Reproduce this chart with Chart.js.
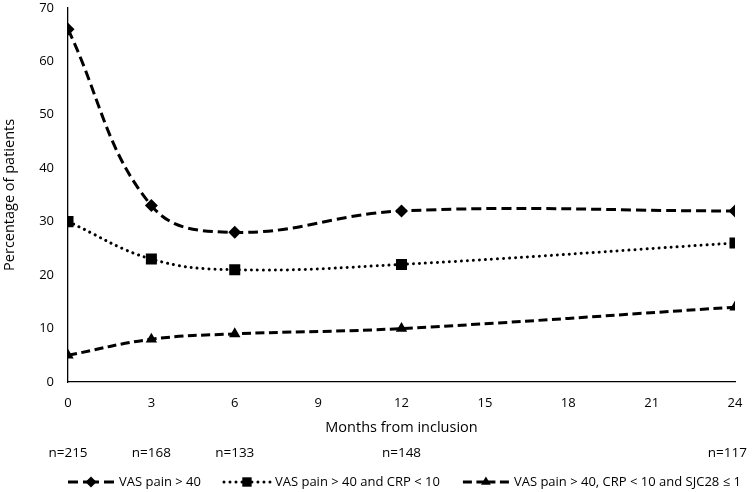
<!DOCTYPE html>
<html><head><meta charset="utf-8">
<script src="https://cdn.jsdelivr.net/npm/chart.js@4/dist/chart.umd.min.js"></script>
<style>html,body{margin:0;padding:0;background:#fff;}#wrap{width:755px;height:492px;}</style>
</head><body><div id="wrap"><canvas id="c" width="755" height="492"></canvas></div>
<script>
const months = [0, 3, 6, 12, 24];
const seriesLabels = ['VAS pain > 40', 'VAS pain > 40 and CRP < 10', 'VAS pain > 40, CRP < 10 and SJC28 \u2264 1'];
const vasPain = [66, 33, 28, 32, 32];
const vasPainCrp = [30, 23, 21, 22, 26];
const vasPainCrpSjc = [5, 8, 9, 10, 14];
const nLabels = ['n=215', 'n=168', 'n=133', 'n=148', 'n=117'];
const xTickStep = 3;
const yTickStep = 10;

const FONT = "'Open Sans', 'DejaVu Sans', sans-serif";
const toPts = arr => arr.map((v, i) => ({x: months[i], y: v}));

const styles = [
  {dash: [10, 5], cap: 'butt', width: 3, point: 'rectRot', r: 6.5},
  {dash: [0.01, 6], cap: 'round', width: 3, point: 'rect', r: 7.8},
  {dash: [9, 4.5], cap: 'butt', width: 3, point: 'triangle', r: 6.6}
];
const values = [vasPain, vasPainCrp, vasPainCrpSjc];

const datasets = values.map((v, i) => ({
  label: seriesLabels[i],
  data: toPts(v),
  borderColor: '#000',
  backgroundColor: '#000',
  borderWidth: styles[i].width,
  borderDash: styles[i].dash,
  borderCapStyle: styles[i].cap,
  tension: 0.4,
  pointStyle: styles[i].point,
  pointRadius: styles[i].r,
  pointBorderWidth: 0,
  pointBackgroundColor: '#000',
  fill: false
}));

function drawMarker(ctx, style, r, x, y) {
  ctx.beginPath();
  if (style === 'rectRot') {
    ctx.moveTo(x - r, y); ctx.lineTo(x, y - r); ctx.lineTo(x + r, y); ctx.lineTo(x, y + r);
  } else if (style === 'rect') {
    const s = Math.SQRT1_2 * r;
    ctx.rect(x - s, y - s, 2 * s, 2 * s);
  } else {
    const h = Math.sqrt(3) / 2 * r;
    ctx.moveTo(x, y - r); ctx.lineTo(x + h, y + r / 2); ctx.lineTo(x - h, y + r / 2);
  }
  ctx.closePath();
  ctx.fill();
}

const extras = {
  id: 'extras',
  afterDraw(chart) {
    const ctx = chart.ctx;
    const xs = chart.scales.x;
    ctx.save();
    ctx.fillStyle = '#000';
    ctx.font = "13.5px " + FONT;
    ctx.textAlign = 'center';
    ctx.textBaseline = 'middle';
    nLabels.forEach((t, i) => {
      const w = ctx.measureText(t).width;
      let px = xs.getPixelForValue(months[i]);
      px = Math.min(px, chart.width - 8 - w / 2);
      ctx.fillText(t, px, 453);
    });
    // legend
    const ly = 482;
    const sample = 46;
    let x = chart.chartArea.left;
    ctx.textAlign = 'left';
    ctx.font = "13px " + FONT;
    chart.data.datasets.forEach((ds, i) => {
      ctx.strokeStyle = '#000';
      ctx.lineWidth = ds.borderWidth;
      ctx.lineCap = ds.borderCapStyle;
      ctx.setLineDash(ds.borderDash);
      ctx.beginPath(); ctx.moveTo(x, ly); ctx.lineTo(x + sample / 2, ly); ctx.stroke();
      ctx.beginPath(); ctx.moveTo(x + sample, ly); ctx.lineTo(x + sample / 2, ly); ctx.stroke();
      ctx.setLineDash([]);
      drawMarker(ctx, ds.pointStyle, ds.pointRadius * 0.85, x + sample / 2, ly);
      x += sample + 5;
      ctx.fillText(ds.label, x, ly);
      x += ctx.measureText(ds.label).width + 23;
    });
    ctx.restore();
  }
};

new Chart(document.getElementById('c'), {
  type: 'line',
  data: {datasets},
  options: {
    responsive: false,
    animation: false,
    devicePixelRatio: 1,
    layout: {padding: {top: 7, right: 20, bottom: 55, left: 0}},
    plugins: {legend: {display: false}, tooltip: {enabled: false}},
    scales: {
      x: {
        type: 'linear', min: 0, max: 24,
        ticks: {stepSize: xTickStep, color: '#000', font: {family: FONT, size: 13}, padding: 13},
        grid: {display: false, drawTicks: false},
        border: {display: true, color: '#000', width: 1.3},
        title: {display: true, text: 'Months from inclusion', color: '#000', font: {family: FONT, size: 14.5}, padding: {top: 0, bottom: 0}},
        afterFit(s) { s.height = 55; s.paddingLeft = 0; s.paddingRight = 0; }
      },
      y: {
        min: 0, max: 70,
        ticks: {stepSize: yTickStep, color: '#000', font: {family: FONT, size: 13}, padding: 14},
        grid: {display: false, drawTicks: false},
        border: {display: true, color: '#000', width: 1.3},
        title: {display: true, text: 'Percentage of patients', color: '#000', font: {family: FONT, size: 14.5}, padding: {top: 1, bottom: 0}},
        afterFit(s) { s.width = 68; s.paddingTop = 0; s.paddingBottom = 0; }
      }
    }
  },
  plugins: [extras]
});
</script></body></html>
